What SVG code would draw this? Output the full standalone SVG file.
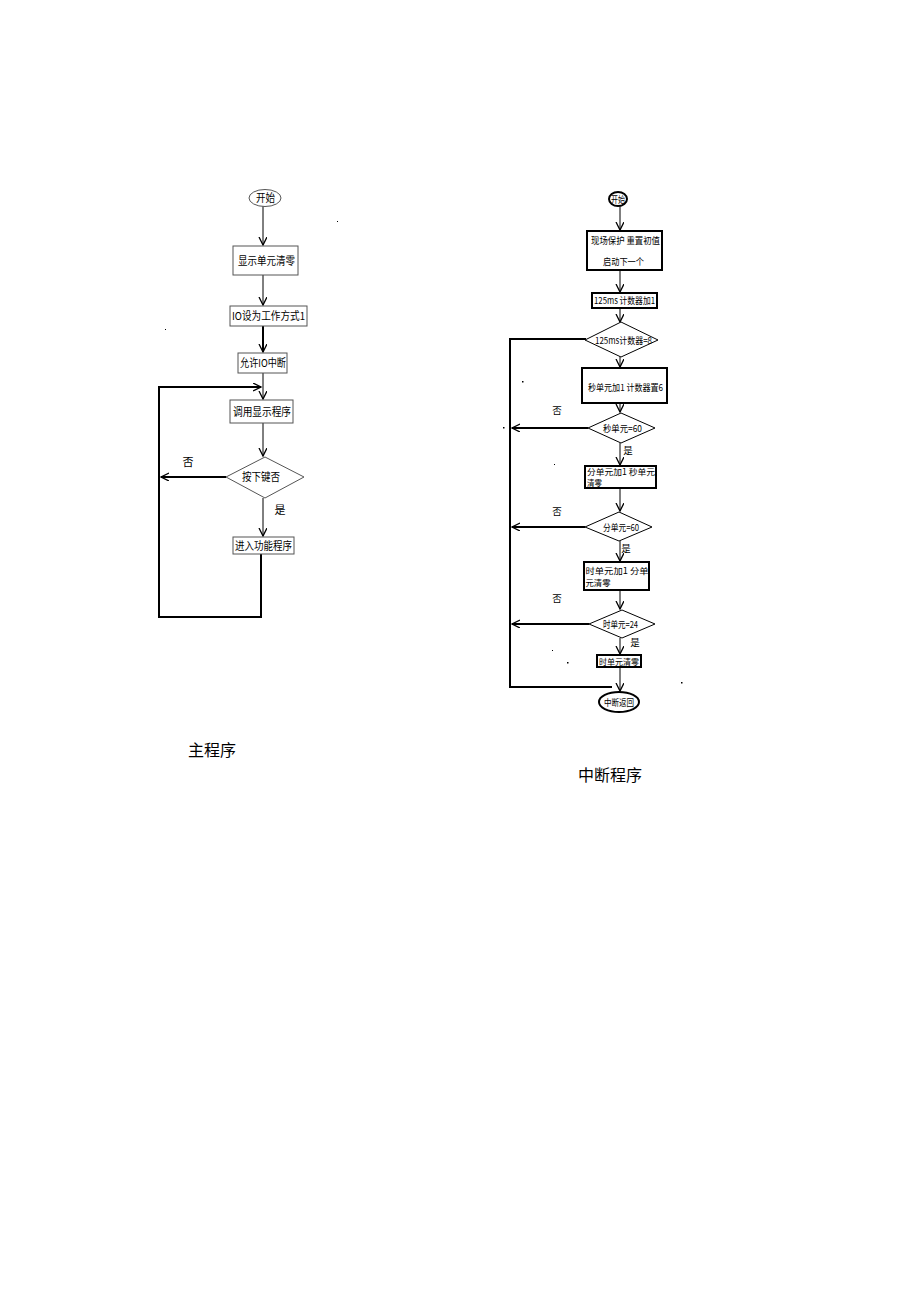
<svg xmlns="http://www.w3.org/2000/svg" width="920" height="1302" viewBox="0 0 920 1302">
<defs>
<marker id="arr" markerWidth="10" markerHeight="10" refX="8" refY="4" orient="auto" markerUnits="userSpaceOnUse">
<path d="M0,0 L8,4 L0,8" fill="none" stroke="#000" stroke-width="1.3"/>
</marker>
<style>
.box{fill:#fff;stroke:#555;stroke-width:1}
.tbox{fill:#fff;stroke:#000;stroke-width:2}
.ln{fill:none;stroke:#000;stroke-width:1}
.th{fill:none;stroke:#000;stroke-width:2}
.t{font-family:"Noto Sans CJK SC","Liberation Sans",sans-serif;font-size:11px;fill:#000}
.s{font-family:"Noto Sans CJK SC","Liberation Sans",sans-serif;font-size:9.5px;fill:#000}
.cap{font-family:"Noto Sans CJK SC","Liberation Serif",serif;font-size:16px;fill:#000}
</style>
</defs>
<rect width="920" height="1302" fill="#fff"/>

<g id="connectors">
<line class="ln" x1="263" y1="206" x2="263" y2="245" marker-end="url(#arr)"/>
<line class="ln" x1="263" y1="275" x2="263" y2="305" marker-end="url(#arr)"/>
<line class="th" x1="263" y1="326" x2="263" y2="352" marker-end="url(#arr)"/>
<line class="ln" x1="263" y1="373" x2="263" y2="399" marker-end="url(#arr)"/>
<polyline class="th" points="159,617 159,387 261,387" marker-end="url(#arr)"/>
<line class="ln" x1="263" y1="423" x2="263" y2="456" marker-end="url(#arr)"/>
<line class="th" x1="226" y1="477" x2="161" y2="477" marker-end="url(#arr)"/>
<line class="ln" x1="263" y1="498" x2="263" y2="536" marker-end="url(#arr)"/>
<polyline class="th" points="261,553 261,617 158,617"/>
<line class="ln" x1="620" y1="206" x2="620" y2="230" marker-end="url(#arr)"/>
<line class="ln" x1="620" y1="270" x2="620" y2="292" marker-end="url(#arr)"/>
<line class="ln" x1="620" y1="308" x2="620" y2="322" marker-end="url(#arr)"/>
<line class="ln" x1="620" y1="356" x2="620" y2="367" marker-end="url(#arr)"/>
<line class="ln" x1="620" y1="403" x2="620" y2="412" marker-end="url(#arr)"/>
<line class="ln" x1="620" y1="443" x2="620" y2="465" marker-end="url(#arr)"/>
<line class="ln" x1="620" y1="488" x2="620" y2="511" marker-end="url(#arr)"/>
<line class="ln" x1="620" y1="541" x2="620" y2="561" marker-end="url(#arr)"/>
<line class="ln" x1="620" y1="590" x2="620" y2="609" marker-end="url(#arr)"/>
<line class="ln" x1="620" y1="638" x2="620" y2="654" marker-end="url(#arr)"/>
<line class="ln" x1="620" y1="667" x2="620" y2="691" marker-end="url(#arr)"/>
<polyline class="th" points="586,339 510,339 510,687 612,687"/>
<line class="th" x1="588" y1="428" x2="512" y2="428" marker-end="url(#arr)"/>
<line class="th" x1="585" y1="527" x2="512" y2="527" marker-end="url(#arr)"/>
<line class="th" x1="589" y1="624" x2="512" y2="624" marker-end="url(#arr)"/>
</g>

<g id="m_start">
<ellipse cx="265" cy="198" rx="16" ry="8.5" fill="#fff" stroke="#555" stroke-width="1"/>
<text class="t" x="256" y="202" textLength="19" lengthAdjust="spacingAndGlyphs">开始</text>
</g>
<g id="m_clear">
<rect class="box" x="233" y="246" width="65" height="29"/>
<text class="t" x="238" y="265" textLength="57" lengthAdjust="spacingAndGlyphs">显示单元清零</text>
</g>
<g id="m_io">
<rect class="box" x="230" y="306" width="77" height="20"/>
<text class="t" x="232" y="320" textLength="73" lengthAdjust="spacingAndGlyphs">IO设为工作方式1</text>
</g>
<g id="m_int">
<rect class="box" x="238" y="353" width="49" height="20"/>
<text class="t" x="240" y="367" textLength="46" lengthAdjust="spacingAndGlyphs">允许IO中断</text>
</g>
<g id="m_disp">
<rect class="box" x="230" y="400" width="63" height="23"/>
<text class="t" x="233" y="416" textLength="58" lengthAdjust="spacingAndGlyphs">调用显示程序</text>
</g>
<g id="m_key">
<polygon points="265,457 304,477 265,498 226,477" fill="#fff" stroke="#555" stroke-width="1"/>
<text class="t" x="242" y="481" textLength="38" lengthAdjust="spacingAndGlyphs">按下键否</text>
</g>
<g id="m_func">
<rect class="box" x="233" y="537" width="61" height="17"/>
<text class="t" x="235" y="550" textLength="57" lengthAdjust="spacingAndGlyphs">进入功能程序</text>
</g>
<text class="t" x="188" y="466" text-anchor="middle">否</text>
<text class="t" x="280" y="514" text-anchor="middle">是</text>
<text class="cap" x="188" y="756">主程序</text>

<g id="i_start">
<ellipse cx="618" cy="199" rx="9" ry="7" fill="#fff" stroke="#000" stroke-width="2"/>
<text class="s" x="611" y="202.5" textLength="14" lengthAdjust="spacingAndGlyphs">开始</text>
</g>
<g id="i_save">
<rect class="tbox" x="587" y="231" width="75" height="39"/>
<text class="s" x="591" y="244" textLength="69" lengthAdjust="spacingAndGlyphs">现场保护  重置初值</text>
<text class="s" x="603" y="265" textLength="41" lengthAdjust="spacingAndGlyphs">启动下一个</text>
</g>
<g id="i_inc">
<rect class="tbox" x="592" y="293" width="65" height="15"/>
<text class="s" x="594" y="304" textLength="61" lengthAdjust="spacingAndGlyphs">125ms 计数器加1</text>
</g>
<g id="i_d8">
<polygon points="621,322 658,340 621,357 585,340" fill="#fff" stroke="#000" stroke-width="1"/>
<text class="s" x="595" y="343.5" textLength="57" lengthAdjust="spacingAndGlyphs">125ms计数器=8</text>
</g>
<g id="i_sec">
<rect class="tbox" x="582" y="368" width="85" height="35"/>
<text class="s" x="588" y="391" textLength="75" lengthAdjust="spacingAndGlyphs">秒单元加1 计数器置6</text>
</g>
<g id="i_d60s">
<polygon points="621,413 655,428 621,443 588,428" fill="#fff" stroke="#000" stroke-width="1"/>
<text class="s" x="603" y="431.5" textLength="39" lengthAdjust="spacingAndGlyphs">秒单元=60</text>
</g>
<g id="i_min">
<rect class="tbox" x="585" y="466" width="71" height="22"/>
<text class="s" x="587" y="475" textLength="68" lengthAdjust="spacingAndGlyphs" style="font-size:8.5px">分单元加1  秒单元</text>
<text class="s" x="587" y="486" textLength="15" lengthAdjust="spacingAndGlyphs" style="font-size:8.5px">清零</text>
</g>
<g id="i_d60m">
<polygon points="619,512 652,527 619,541 585,527" fill="#fff" stroke="#000" stroke-width="1"/>
<text class="s" x="603" y="530.5" textLength="36" lengthAdjust="spacingAndGlyphs">分单元=60</text>
</g>
<g id="i_hour">
<rect class="tbox" x="584" y="562" width="65" height="28"/>
<text class="s" x="585.5" y="574" textLength="63" lengthAdjust="spacingAndGlyphs" style="font-size:8.5px">时单元加1   分单</text>
<text class="s" x="585.5" y="586" textLength="25" lengthAdjust="spacingAndGlyphs" style="font-size:8.5px">元清零</text>
</g>
<g id="i_d24">
<polygon points="622,610 655,624 622,638 589,624" fill="#fff" stroke="#000" stroke-width="1"/>
<text class="s" x="603" y="627.5" textLength="35" lengthAdjust="spacingAndGlyphs">时单元=24</text>
</g>
<g id="i_hclr">
<rect class="tbox" x="597" y="655" width="44" height="12"/>
<text class="s" x="599" y="664.5" textLength="40" lengthAdjust="spacingAndGlyphs" style="font-size:8.5px">时单元清零</text>
</g>
<g id="i_ret">
<ellipse cx="619" cy="702" rx="20" ry="10" fill="#fff" stroke="#000" stroke-width="2"/>
<text class="s" x="604" y="705.5" textLength="30" lengthAdjust="spacingAndGlyphs">中断返回</text>
</g>
<text class="s" x="557" y="414" text-anchor="middle">否</text>
<text class="s" x="628" y="454" text-anchor="middle">是</text>
<text class="s" x="557" y="515" text-anchor="middle">否</text>
<text class="s" x="626" y="552" text-anchor="middle">是</text>
<text class="s" x="557" y="602" text-anchor="middle">否</text>
<text class="s" x="635" y="646" text-anchor="middle">是</text>
<text class="cap" x="578" y="781">中断程序</text>

<g id="specks" fill="#000">
<rect x="337" y="221" width="1" height="1"/>
<rect x="165" y="329" width="1" height="1"/>
<rect x="522" y="381" width="1.5" height="1.5"/>
<rect x="503" y="427" width="1.5" height="1.5"/>
<rect x="554" y="464" width="1" height="1"/>
<rect x="552" y="650" width="1" height="1"/>
<rect x="567" y="662" width="1.5" height="1.5"/>
<rect x="681" y="682" width="1.5" height="1.5"/>
</g>
</svg>
